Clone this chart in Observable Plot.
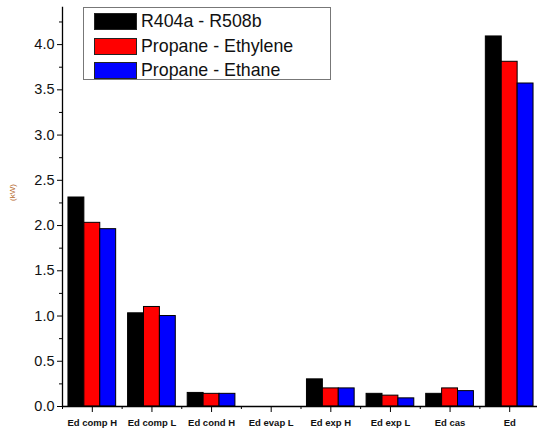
<!DOCTYPE html>
<html>
<head>
<meta charset="utf-8">
<script src="https://cdn.jsdelivr.net/npm/d3@7"></script>
<script src="https://cdn.jsdelivr.net/npm/@observablehq/plot@0.6"></script>
<style>
  html, body { margin: 0; padding: 0; background: #fff; }
  #wrap { position: relative; width: 537px; height: 434px; overflow: hidden; }
  #legend {
    position: absolute; left: 83px; top: 7px; width: 246px; height: 71px;
    border: 1px solid #777; background: #fff; box-sizing: content-box;
    font-family: "Liberation Sans", Arial, sans-serif; font-size: 17.8px; color: #111;
  }
  .row { position: absolute; left: 10px; height: 17px; display: flex; align-items: center; }
  .sw { width: 41px; height: 15px; border: 1px solid #222; margin-right: 4px; }
</style>
</head>
<body>
<div id="wrap"><div id="chart"></div><div id="legend"></div></div>
<script>
const categories = ["Ed comp H", "Ed comp L", "Ed cond H", "Ed evap L", "Ed exp H", "Ed exp L", "Ed cas", "Ed"];
const seriesNames = ["R404a - R508b", "Propane - Ethylene", "Propane - Ethane"];
const seriesColors = ["#000000", "#ff0000", "#0000ff"];
const r404a = [2.31, 1.03, 0.15, 0, 0.30, 0.14, 0.14, 4.09];
const propaneEthylene = [2.03, 1.10, 0.14, 0, 0.20, 0.12, 0.20, 3.81];
const propaneEthane = [1.96, 1.00, 0.14, 0, 0.20, 0.09, 0.17, 3.57];
const majorTicks = [0, 0.5, 1.0, 1.5, 2.0, 2.5, 3.0, 3.5, 4.0];
const minorTicks = [0.25, 0.75, 1.25, 1.75, 2.25, 2.75, 3.25, 3.75, 4.25];

const allSeries = [r404a, propaneEthylene, propaneEthane];
const data = [];
allSeries.forEach((vals, j) => vals.forEach((v, i) => data.push({cat: categories[i], series: seriesNames[j], j, value: v})));

const W = 537, H = 434, mL = 62, mR = -2, mT = 7, mB = 28;
const paddingInner = 0.2, paddingOuter = 0.1;
const step = (W - mL - mR) / (categories.length - paddingInner + 2 * paddingOuter);
const bw = step * (1 - paddingInner);
const barW = bw / 3;

const font = "'Liberation Sans', Arial, sans-serif";

const barMarks = seriesNames.map((s, j) =>
  Plot.barY(data.filter(d => d.j === j), {
    x: "cat", y: "value", fill: seriesColors[j], stroke: "#000", strokeWidth: 1,
    insetLeft: j * barW, insetRight: (2 - j) * barW
  })
);

const chart = Plot.plot({
  width: W, height: H,
  marginLeft: mL, marginRight: mR, marginTop: mT, marginBottom: mB,
  style: {fontFamily: font, background: "transparent", color: "#111"},
  x: {domain: categories, paddingInner, paddingOuter, round: false, axis: null, label: null},
  y: {domain: [0, 4.41], axis: null, label: null},
  marks: [
    ...barMarks,
    Plot.ruleY([0], {stroke: "#000", strokeWidth: 1.3}),
    Plot.frame({anchor: "left", stroke: "#000", strokeWidth: 1.3}),
    Plot.axisY({ticks: majorTicks, tickFormat: d3.format(".1f"), tickSize: 5, tickPadding: 3, fontSize: 14.5, stroke: "#000", label: null}),
    Plot.axisY({ticks: minorTicks, tickFormat: () => "", tickSize: 3, stroke: "#000", label: null}),
    Plot.axisX({tickSize: 6, tickPadding: 7, fontSize: 9.5, stroke: "#000", fontWeight: 600, label: null}),
    Plot.axisX({tickSize: 3, dx: -step / 2, tickFormat: () => "", stroke: "#000", label: null}),
    Plot.text(["(kW)"], {frameAnchor: "left", dx: -50, dy: -6, rotate: -90, fontSize: 8, fill: "#b5692c"})
  ]
});
document.getElementById("chart").appendChild(chart);

const legend = document.getElementById("legend");
seriesNames.forEach((name, j) => {
  const row = document.createElement("div");
  row.className = "row";
  row.style.top = (5 + j * 24.5) + "px";
  const sw = document.createElement("div");
  sw.className = "sw";
  sw.style.background = seriesColors[j];
  const t = document.createElement("span");
  t.textContent = name;
  row.appendChild(sw); row.appendChild(t);
  legend.appendChild(row);
});
</script>
</body>
</html>
